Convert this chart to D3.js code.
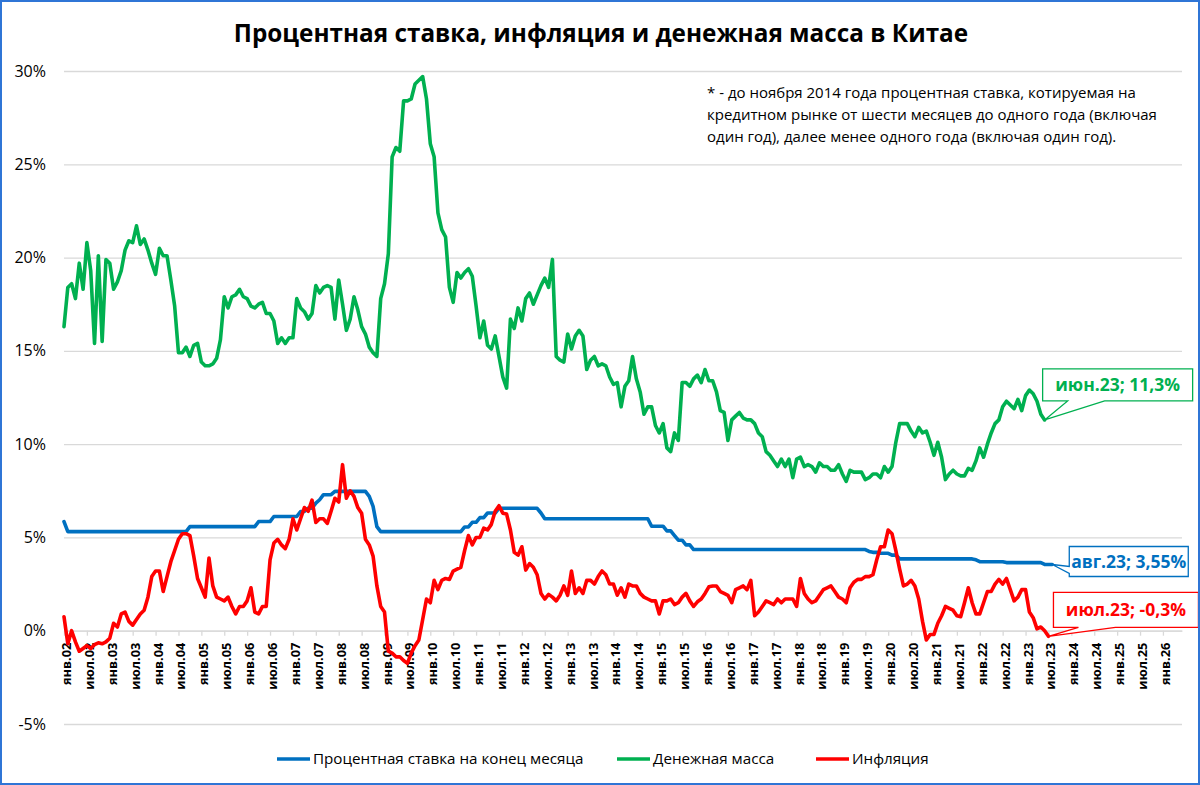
<!DOCTYPE html>
<html><head><meta charset="utf-8">
<script src="https://cdn.jsdelivr.net/npm/d3@7"></script>
<style>
body{margin:0;background:#fff;}
svg text{font-family:"Open Sans","Noto Sans",sans-serif;fill:#000;}
</style>
</head><body>
<svg id="chart" width="1200" height="785"></svg>
<script>
// ---------- DATA ----------
const firstMonth = [2002, 0];   // январь 2002
const lastMonth  = [2026, 5];   // июнь 2026 (конец оси)

const seriesNames = ["Процентная ставка на конец месяца", "Денежная масса", "Инфляция"];

// Процентная ставка на конец месяца, % (янв.02 – авг.23)
const rateValues = [
5.85,5.31,5.31,5.31,5.31,5.31,5.31,5.31,5.31,5.31,5.31,5.31,
5.31,5.31,5.31,5.31,5.31,5.31,5.31,5.31,5.31,5.31,5.31,5.31,
5.31,5.31,5.31,5.31,5.31,5.31,5.31,5.31,5.31,5.58,5.58,5.58,
5.58,5.58,5.58,5.58,5.58,5.58,5.58,5.58,5.58,5.58,5.58,5.58,
5.58,5.58,5.58,5.85,5.85,5.85,5.85,6.12,6.12,6.12,6.12,6.12,
6.12,6.12,6.39,6.39,6.57,6.57,6.84,7.02,7.29,7.29,7.29,7.47,
7.47,7.47,7.47,7.47,7.47,7.47,7.47,7.47,7.20,6.66,5.58,5.31,
5.31,5.31,5.31,5.31,5.31,5.31,5.31,5.31,5.31,5.31,5.31,5.31,
5.31,5.31,5.31,5.31,5.31,5.31,5.31,5.31,5.31,5.56,5.56,5.81,
5.81,6.06,6.06,6.31,6.31,6.31,6.56,6.56,6.56,6.56,6.56,6.56,
6.56,6.56,6.56,6.56,6.56,6.31,6.00,6.00,6.00,6.00,6.00,6.00,
6.00,6.00,6.00,6.00,6.00,6.00,6.00,6.00,6.00,6.00,6.00,6.00,
6.00,6.00,6.00,6.00,6.00,6.00,6.00,6.00,6.00,6.00,5.60,5.60,
5.60,5.60,5.35,5.35,5.10,4.85,4.85,4.60,4.60,4.35,4.35,4.35,
4.35,4.35,4.35,4.35,4.35,4.35,4.35,4.35,4.35,4.35,4.35,4.35,
4.35,4.35,4.35,4.35,4.35,4.35,4.35,4.35,4.35,4.35,4.35,4.35,
4.35,4.35,4.35,4.35,4.35,4.35,4.35,4.35,4.35,4.35,4.35,4.35,
4.35,4.35,4.35,4.35,4.35,4.35,4.35,4.25,4.20,4.20,4.15,4.15,
4.15,4.05,4.05,3.85,3.85,3.85,3.85,3.85,3.85,3.85,3.85,3.85,
3.85,3.85,3.85,3.85,3.85,3.85,3.85,3.85,3.85,3.85,3.85,3.80,
3.70,3.70,3.70,3.70,3.70,3.70,3.70,3.65,3.65,3.65,3.65,3.65,
3.65,3.65,3.65,3.65,3.65,3.55,3.55,3.55
];

// Денежная масса, % г/г (янв.02 – июн.23)
const moneyValues = [
16.3,18.4,18.6,17.8,19.7,18.3,20.8,19.3,15.4,20.1,15.5,19.9,
19.7,18.3,18.7,19.3,20.4,20.9,20.8,21.7,20.7,21.0,20.4,19.7,
19.1,20.5,20.1,20.1,18.8,17.4,14.9,14.9,15.2,14.7,15.3,15.4,
14.4,14.2,14.2,14.3,14.6,15.6,17.9,17.3,17.9,18.0,18.3,17.9,
17.8,17.4,17.3,17.5,17.6,17.0,17.0,16.6,15.4,15.7,15.4,15.7,
15.7,17.8,17.3,17.1,16.7,17.0,18.5,18.1,18.4,18.5,18.4,16.7,
18.8,17.5,16.1,16.7,17.9,17.2,16.3,15.9,15.2,14.9,14.7,17.8,
18.6,20.2,25.4,25.9,25.7,28.4,28.4,28.5,29.3,29.5,29.7,28.5,
26.1,25.4,22.4,21.5,21.1,18.4,17.6,19.2,18.9,19.2,19.4,19.0,
17.4,15.7,16.6,15.3,15.1,15.8,14.7,13.6,13.0,16.7,16.2,17.3,
16.6,17.8,18.1,17.5,18.0,18.5,18.9,18.4,19.9,14.7,14.5,14.4,
15.9,15.1,15.8,16.1,15.8,14.0,14.5,14.7,14.2,14.3,14.2,13.6,
13.2,13.3,12.0,13.1,13.4,14.7,13.5,12.8,11.6,12.0,12.0,11.0,
10.6,11.1,9.8,9.6,10.6,10.2,13.3,13.3,13.1,13.5,13.7,13.3,
14.0,13.4,13.4,12.8,11.8,11.7,10.2,11.3,11.5,11.7,11.4,11.3,
11.3,11.1,10.6,10.4,9.6,9.4,9.1,8.8,9.2,8.8,9.2,8.2,
9.2,9.3,8.8,8.9,8.8,8.5,9.0,8.8,8.8,8.6,8.6,8.9,
8.4,8.0,8.6,8.5,8.5,8.5,8.1,8.2,8.4,8.4,8.2,8.8,
8.5,8.8,10.1,11.1,11.1,11.1,10.7,10.4,10.9,10.6,10.7,10.1,
9.4,10.1,9.3,8.1,8.4,8.6,8.4,8.3,8.3,8.7,8.6,9.1,
9.8,9.3,10.0,10.6,11.1,11.3,12.0,12.3,12.1,11.9,12.4,11.8,
12.6,12.9,12.7,12.3,11.6,11.3
];

// Инфляция, % г/г (янв.02 – июл.23)
const inflationValues = [
0.75,-0.7,0.0,-0.6,-1.1,-0.95,-0.8,-0.95,-0.75,-0.65,-0.7,-0.6,
-0.4,0.4,0.2,0.9,1.0,0.5,0.3,0.6,0.9,1.1,1.8,2.9,
3.2,3.2,2.1,2.9,3.7,4.3,4.9,5.2,5.2,5.1,4.0,2.8,
2.3,1.8,3.9,2.4,1.8,1.7,1.6,1.8,1.3,0.9,1.3,1.3,
1.6,2.3,1.0,0.9,1.3,1.3,3.8,4.7,4.9,4.6,4.4,4.9,
6.0,5.4,6.0,6.6,6.4,7.0,5.8,6.0,6.0,5.75,6.4,7.1,
6.9,8.9,7.1,7.5,7.2,6.6,6.3,4.9,4.6,4.0,2.4,1.3,
1.0,-1.1,-1.2,-1.4,-1.4,-1.6,-1.75,-1.2,-0.8,-0.5,0.6,1.7,
1.5,2.7,2.2,2.7,2.8,2.75,3.2,3.3,3.4,4.3,5.1,4.6,
5.0,5.0,5.5,5.4,5.7,6.4,6.7,6.3,6.25,5.4,4.2,4.05,
4.5,3.25,3.6,3.4,3.0,2.0,1.7,1.95,1.8,1.6,1.9,2.4,
1.9,3.2,2.0,2.3,2.0,2.7,2.7,2.5,2.9,3.2,3.0,2.5,
2.5,1.9,2.3,1.8,2.5,2.4,2.4,2.0,1.8,1.7,1.6,1.6,
0.9,1.6,1.6,1.7,1.4,1.5,1.8,2.0,1.6,1.3,1.55,1.7,
2.0,2.35,2.4,2.4,2.1,2.0,1.9,1.5,2.2,2.3,2.4,2.2,
2.7,0.8,1.0,1.3,1.6,1.5,1.4,1.7,1.5,1.7,1.7,1.7,
1.3,2.8,2.0,1.7,1.5,1.6,1.9,2.2,2.3,2.4,2.1,1.8,
1.7,1.5,2.3,2.6,2.75,2.75,2.9,2.9,3.0,3.8,4.5,4.5,
5.4,5.2,4.3,3.3,2.4,2.5,2.7,2.4,1.7,0.5,-0.5,-0.2,
-0.2,0.4,0.8,1.3,1.2,1.1,0.8,0.75,1.5,2.3,1.5,0.9,
0.9,1.5,2.1,2.1,2.5,2.75,2.5,2.8,2.2,1.6,1.8,2.2,
2.2,1.0,0.7,0.1,0.2,0.0,-0.3
];

const yTickValues = [-5, 0, 5, 10, 15, 20, 25, 30];

const xTickLabels = [
"янв.02","июл.02","янв.03","июл.03","янв.04","июл.04","янв.05","июл.05",
"янв.06","июл.06","янв.07","июл.07","янв.08","июл.08","янв.09","июл.09",
"янв.10","июл.10","янв.11","июл.11","янв.12","июл.12","янв.13","июл.13",
"янв.14","июл.14","янв.15","июл.15","янв.16","июл.16","янв.17","июл.17",
"янв.18","июл.18","янв.19","июл.19","янв.20","июл.20","янв.21","июл.21",
"янв.22","июл.22","янв.23","июл.23","янв.24","июл.24","янв.25","июл.25","янв.26"
];

const monthAbbr = ["янв","фев","мар","апр","май","июн","июл","авг","сен","окт","ноя","дек"];

const titleText = "Процентная ставка, инфляция и денежная масса в Китае";
const noteLines = [
"* - до ноября 2014 года процентная ставка, котируемая на",
"кредитном рынке от шести месяцев до одного года (включая",
"один год), далее менее одного года (включая один год)."
];

// ---------- DRAWING ----------
const colors = ["#0070c0", "#00b050", "#ff0000"];
const gridColor = "#d9d9d9";
const svg = d3.select("#chart");

const months = d3.timeMonth.range(new Date(firstMonth[0], firstMonth[1], 1),
                                  d3.timeMonth.offset(new Date(lastMonth[0], lastMonth[1], 1), 1));
const keyFmt = d3.timeFormat("%Y-%m");
const keys = months.map(keyFmt);

const plotL = 64, plotR = 1182;
const x = d3.scalePoint().domain(keys).range([plotL, plotR]);
const y = d3.scaleLinear().domain([-5, 30]).range([724, 71]);

svg.append("rect").attr("width", 1200).attr("height", 785).attr("fill", "#fff");

// Title
svg.append("text").attr("x", 601).attr("y", 42).attr("text-anchor", "middle")
  .style("font-size", "24.3px").style("font-weight", "bold").text(titleText);

// Y grid + labels
const yAxis = svg.append("g").attr("transform", `translate(${plotL},0)`)
  .call(d3.axisLeft(y).tickValues(yTickValues).tickSize(-(plotR - plotL)).tickPadding(18)
        .tickFormat(d => d + "%"));
yAxis.select(".domain").remove();
yAxis.selectAll(".tick line").attr("stroke", gridColor).attr("stroke-width", 1.3);
yAxis.selectAll(".tick text").style("font-size", "16px").style("font-family", "'Open Sans',sans-serif");

// X axis at 0
const xTickKeys = keys.filter((k, i) => i % 6 === 0);
const xAxis = svg.append("g").attr("transform", `translate(0,${y(0)})`)
  .call(d3.axisBottom(x).tickValues(xTickKeys).tickSize(5).tickSizeOuter(0)
        .tickFormat((d, i) => xTickLabels[i]));
xAxis.select(".domain").attr("stroke", gridColor).attr("stroke-width", 1.3);
xAxis.selectAll(".tick line").attr("stroke", gridColor).attr("stroke-width", 1.3);
xAxis.selectAll(".tick text")
  .attr("transform", "rotate(-90)").attr("x", -12).attr("y", 2).attr("dy", "0.35em")
  .style("text-anchor", "end").style("font-size", "12.8px").style("font-weight", "bold")
  .style("font-family", "'Open Sans',sans-serif");

// Lines
const line = d3.line().x((d, i) => x(keys[i])).y(d => y(d)).curve(d3.curveLinear);
[rateValues, moneyValues, inflationValues].forEach((vals, si) => {
  svg.append("path").datum(vals).attr("d", line)
    .attr("fill", "none").attr("stroke", colors[si]).attr("stroke-width", 3.6)
    .attr("stroke-linejoin", "round").attr("stroke-linecap", "round");
});

// Note
const note = svg.append("text").attr("x", 707).attr("y", 98).style("font-size", "15px");
noteLines.forEach((t, i) => note.append("tspan").attr("x", 707).attr("dy", i ? 21.8 : 0).text(t));

// Callout annotations
function fmtVal(v) { return String(v).replace(".", ",") + "%"; }
function labelFor(idx, v) {
  const d = months[idx];
  return monthAbbr[d.getMonth()] + "." + String(d.getFullYear()).slice(2) + "; " + fmtVal(v);
}
function callout(si, idx, vals, box, wedge) {
  const px = x(keys[idx]), py = y(vals[idx]);
  const bx = px + box.dx, by = py + box.dy, bw = box.w, bh = box.h;
  let p;
  if (wedge.side === "bottom") {
    const a = bx + wedge.a, b = bx + wedge.b;
    p = `M${bx},${by}H${bx + bw}V${by + bh}H${b}L${px},${py}L${a},${by + bh}H${bx}Z`;
  } else {
    const a = by + wedge.a, b = by + wedge.b;
    p = `M${bx},${by}H${bx + bw}V${by + bh}H${bx}V${b}L${px},${py}L${bx},${a}Z`;
  }
  svg.append("path").attr("d", p).attr("fill", "#fff").attr("stroke", colors[si]).attr("stroke-width", 1.3);
  svg.append("text").attr("x", bx + bw / 2).attr("y", by + bh / 2).attr("dy", "0.36em")
    .attr("text-anchor", "middle").style("font-size", "17.5px").style("font-weight", "bold")
    .style("fill", colors[si]).text(labelFor(idx, vals[idx]));
}
callout(1, moneyValues.length - 1, moneyValues, {dx: -2, dy: -51, w: 150, h: 32}, {side: "bottom", a: 25, b: 62});
callout(0, rateValues.length - 1, rateValues, {dx: 17, dy: -18, w: 119, h: 30}, {side: "left", a: 20, b: 27});
callout(2, inflationValues.length - 1, inflationValues, {dx: 5, dy: -44, w: 145, h: 35}, {side: "bottom", a: 25, b: 62});

// Legend
const legendItems = [
  {x: 277, tx: 313},
  {x: 617, tx: 653},
  {x: 816, tx: 852}
];
legendItems.forEach((it, i) => {
  svg.append("line").attr("x1", it.x).attr("x2", it.x + 33).attr("y1", 759).attr("y2", 759)
    .attr("stroke", colors[i]).attr("stroke-width", 3.6);
  svg.append("text").attr("x", it.tx).attr("y", 759).attr("dy", "0.35em")
    .style("font-size", "15.2px").text(seriesNames[i]);
});

// Frame
svg.append("rect").attr("x", 1).attr("y", 1).attr("width", 1198).attr("height", 783)
  .attr("fill", "none").attr("stroke", "#2f75d6").attr("stroke-width", 2);
</script>
</body></html>
